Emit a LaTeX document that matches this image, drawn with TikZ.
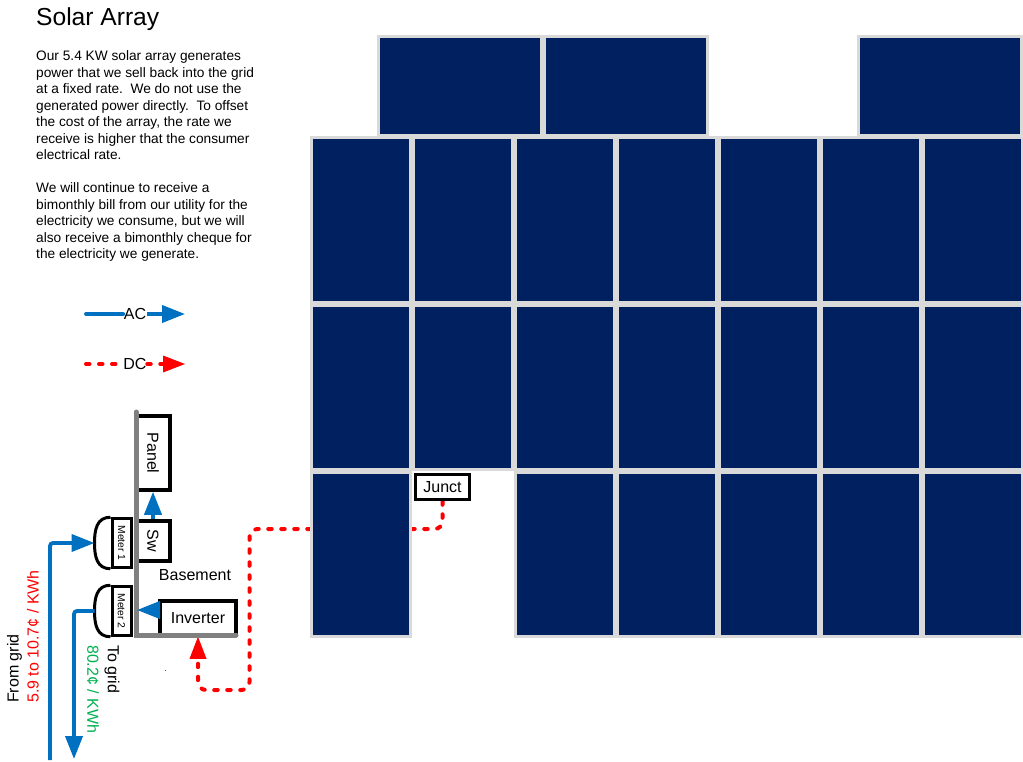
\documentclass[tikz,border=0pt]{standalone}
\usepackage{fontspec}
\setmainfont{Liberation Sans}
\usepackage{tikz}
\usetikzlibrary{calc,arrows.meta,backgrounds}
\definecolor{panelnavy}{RGB}{0,32,96}
\definecolor{panelrim}{RGB}{217,217,217}
\definecolor{acblue}{RGB}{0,112,192}
\definecolor{dcred}{RGB}{255,0,0}
\definecolor{rategreen}{RGB}{0,176,80}
\definecolor{busgray}{RGB}{128,128,128}
\newcommand{\sizedfont}[1]{\fontsize{#1}{#1}\selectfont}
\tikzset{
  solarcell/.style={rectangle,draw=panelrim,fill=panelnavy,line width=3pt,inner sep=0pt,
                    minimum width=99pt,minimum height=164pt},
  widecell/.style={solarcell,minimum width=163pt,minimum height=99.5pt},
  roombox/.style={rectangle,draw=black,fill=white,line width=3.5pt,inner sep=0pt,font=\sizedfont{16}},
  meterbox/.style={rectangle,draw=black,fill=white,line width=3pt,inner sep=0pt,rotate=-90,
                   minimum width=48.5pt,minimum height=19pt,font=\sizedfont{10.3}},
  meterdome/.style={draw=black,line width=3pt},
  busline/.style={draw=busgray,line width=5pt,line cap=round},
  acline/.style={draw=acblue,line width=3.8pt,-{Triangle[length=23pt,width=17pt]}},
  acplain/.style={draw=acblue,line width=3.8pt,line cap=round},
  dcline/.style={draw=dcred,line width=4pt,line cap=round,dash pattern=on 3.5pt off 9.5pt,
                 -{Triangle[length=22pt,width=17pt,fill=dcred,line width=0pt]}},
  dcplain/.style={draw=dcred,line width=4pt,line cap=round,dash pattern=on 3.5pt off 9.5pt},
  legendtext/.style={inner sep=0.5pt,font=\sizedfont{16}},
  sidetext/.style={inner sep=0pt,font=\sizedfont{16}}
}
\begin{document}
\begin{tikzpicture}[x=1pt,y=-1pt]
  \useasboundingbox (0,0) rectangle (1023,762);

  \node [anchor=base west,inner sep=0pt,font=\sizedfont{24.6}] (title) at (36,26) {Solar Array};
  \node [anchor=north west,inner sep=0pt,align=left,font=\fontsize{13.7}{16.5}\selectfont] (story) at (36,50.5)
    {Our 5.4 KW solar array generates\\
     power that we sell back into the grid\\
     at a fixed rate.\ \ We do not use the\\
     generated power directly.\ \ To offset\\
     the cost of the array, the rate we\\
     receive is higher that the consumer\\
     electrical rate.\\[16.5pt]
     We will continue to receive a\\
     bimonthly bill from our utility for the\\
     electricity we consume, but we will\\
     also receive a bimonthly cheque for\\
     the electricity we generate.};

  \foreach \x/\name in {460/a,626/b,940/c}
    \node [widecell] (top-\name) at (\x,86) {};
  \foreach \y [count=\r] in {220,387,554}
    \foreach \x [count=\c] in {361,463,565,667,769,871,973} {
      \ifnum\r\c=32\else
        \node [solarcell] (cell-\r-\c) at (\x,\y) {};
      \fi
    }

  \node [roombox,minimum width=54pt,minimum height=25pt] (junct) at (442.5,487) {Junct};
  \node [roombox,rotate=-90,minimum width=74pt,minimum height=34pt] (panel) at (153,453) {Panel};
  \node [roombox,rotate=-90,minimum width=40pt,minimum height=34pt] (sw) at (153,541) {Sw};
  \node [roombox,minimum width=76pt,minimum height=34pt] (inverter) at (198,618) {Inverter};
  \node [sidetext] (basement) at (195,575) {Basement};

  \node [meterbox] (meter1) at (121.5,543) {Meter 1};
  \node [meterbox] (meter2) at (121.5,611) {Meter 2};
  \foreach \m in {1,2} {
    \coordinate (tip\m) at ($(meter\m.south)+(-16,0)$);
    \draw [meterdome,looseness=1.15] (meter\m.south west) to[out=180,in=90] (tip\m) to[out=-90,in=180] (meter\m.south east);
  }

  \coordinate (bustop) at (136,412);
  \coordinate (buscorner) at (136,635);
  \coordinate (busend) at (236,635);
  \draw [busline] (bustop) -- (buscorner) -- (busend);

  \coordinate (gridin) at (50,760);
  \coordinate (gridout) at (74,759);
  \coordinate (invout) at (160,610);
  \coordinate (invbus) at (137,610);
  \draw [acline,rounded corners=3pt] (gridin) |- (tip1);
  \draw [acline,rounded corners=3pt] (tip2) -| (gridout);
  \draw [acline] (sw.west) -- (panel.east);
  \draw [acline] (invout) -- (invbus);

  \coordinate (acstart) at (86,314);
  \coordinate (acend) at (185,314);
  \coordinate (dcstart) at (86,364);
  \coordinate (dcend) at (185,364);
  \node [legendtext] (aclabel) at (135,314) {AC};
  \node [legendtext] (dclabel) at (135,364) {DC};
  \draw [acplain] (acstart) -- (aclabel);
  \draw [acline] (aclabel) -- (acend);
  \draw [dcplain] (dcstart) -- (dclabel);
  \draw [dcline] (dclabel) -- (dcend);

  \coordinate (dctop) at (249.5,529);
  \coordinate (dcbottom) at (249.5,690);
  \begin{scope}[on background layer]
    \draw [dcline,rounded corners=8pt] (junct.south) |- (dctop) -- (dcbottom) -| (inverter.south);
  \end{scope}

  \node [sidetext,rotate=90,anchor=west] (fromgrid) at (14.5,703) {From grid};
  \node [sidetext,rotate=90,anchor=west,text=dcred] (buyrate) at (33,703) {5.9 to 10.7¢ / KWh};
  \node [sidetext,rotate=-90,anchor=west] (togrid) at (112,645) {To grid};
  \node [sidetext,rotate=-90,anchor=west,text=rategreen] (sellrate) at (93,645) {80.2¢ / KWh};
  \node [inner sep=0pt,font=\sizedfont{8}] (speck) at (165.5,671) {.};
\end{tikzpicture}
\end{document}
